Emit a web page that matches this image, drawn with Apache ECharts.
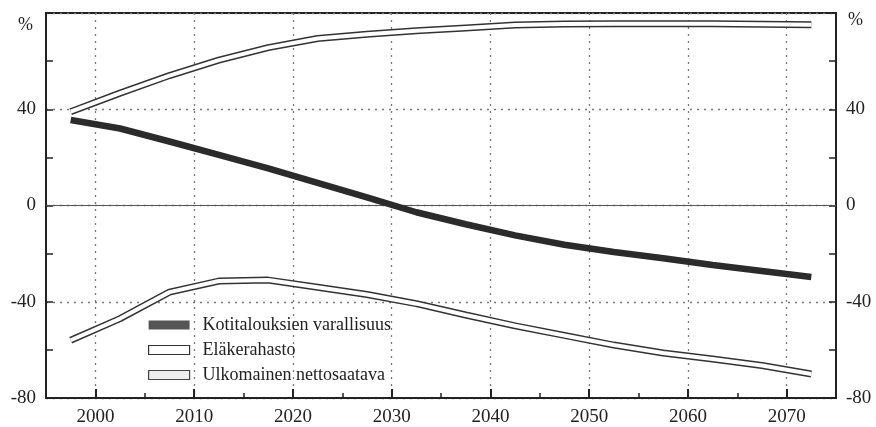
<!DOCTYPE html>
<html>
<head>
<meta charset="utf-8">
<title>Varallisuus</title>
<script src="https://cdn.jsdelivr.net/npm/echarts@6/dist/echarts.min.js"></script>
<style>
  html, body { margin: 0; padding: 0; background: #fff; }
  #chart { width: 876px; height: 427px; }
</style>
</head>
<body>
<div id="chart"></div>
<script>
// data (5 year steps, mid-year points)
var years = [1997.5, 2002.5, 2007.5, 2012.5, 2017.5, 2022.5, 2027.5, 2032.5,
             2037.5, 2042.5, 2047.5, 2052.5, 2057.5, 2062.5, 2067.5, 2072.5];
var kotitaloudet = [35.5, 32, 26.6, 21, 15.4, 9.4, 3.4, -2.8,
                    -7.8, -12.4, -16.3, -19.3, -21.9, -24.7, -27.2, -29.7];
var elakerahasto = [39, 46.7, 54, 60.4, 65.6, 69.4, 71.2, 72.6,
                    73.8, 75, 75.4, 75.5, 75.5, 75.5, 75.3, 75.1];
var ulkomainen = [-56, -47, -36, -31.4, -31, -34, -37, -40.8,
                  -45.5, -50, -54, -58, -61.3, -63.8, -66.5, -70];
var decades = [2000, 2010, 2020, 2030, 2040, 2050, 2060, 2070];
var yLabels = [40, 0, -40, -80];
var names = ['Kotitalouksien varallisuus', 'Eläkerahasto', 'Ulkomainen nettosaatava'];

function pairs(vals) {
  return years.map(function (y, i) { return [y, vals[i]]; });
}

var serif = 'Liberation Serif';
var ink = '#222';

var chart = echarts.init(document.getElementById('chart'));

var yAxisBase = {
  type: 'value', min: -80, max: 80, interval: 20,
  axisLine: { show: true, lineStyle: { color: ink, width: 2 } },
  axisTick: { show: true, inside: true, length: 7, lineStyle: { color: ink, width: 1.5 } },
  axisLabel: {
    fontFamily: serif, fontSize: 19, color: ink, margin: 10,
    formatter: function (v) { return yLabels.indexOf(v) >= 0 ? String(v) : ''; }
  },
  splitLine: { show: false }
};

var option = {
  animation: false,
  grid: { left: 46, right: 40, top: 13, bottom: 28, show: true, borderColor: ink, borderWidth: 2 },
  legend: {
    orient: 'vertical', left: 148, top: 316, padding: 0,
    itemWidth: 41, itemHeight: 9, itemGap: 7,
    textStyle: { fontFamily: serif, fontSize: 18, color: ink, padding: [0, 0, 0, 8] },
    data: [
      { name: names[0], icon: 'rect', itemStyle: { color: '#555', borderWidth: 0 } },
      { name: names[1], icon: 'rect', itemStyle: { color: '#fff', borderColor: '#333', borderWidth: 1.2 } },
      { name: names[2], icon: 'rect', itemStyle: { color: '#eee', borderColor: '#444', borderWidth: 1.2 } }
    ]
  },
  graphic: [
    { type: 'text', left: 18, top: 16, style: { text: '%', font: '18px "Liberation Serif"', fill: ink } },
    { type: 'text', left: 848, top: 11, style: { text: '%', font: '18px "Liberation Serif"', fill: ink } }
  ],
  xAxis: [
    {
      type: 'value', min: 1995, max: 2075, interval: 5,
      axisLine: { show: true, onZero: false, lineStyle: { color: ink, width: 2 } },
      axisTick: { show: true, inside: true, length: 5, lineStyle: { color: ink, width: 1.5 } },
      axisLabel: { show: false },
      splitLine: { show: false }
    },
    {
      type: 'value', min: 1995, max: 2075, position: 'bottom',
      axisLine: { show: false, onZero: false },
      axisTick: { show: true, inside: true, length: 9, customValues: decades, lineStyle: { color: ink, width: 2 } },
      axisLabel: {
        customValues: decades, fontFamily: serif, fontSize: 19, color: ink, margin: 10,
        formatter: function (v) { return String(v); }
      },
      splitLine: { show: true, lineStyle: { color: '#777', type: [2, 5], width: 1.3 } }
    }
  ],
  yAxis: [
    Object.assign({}, yAxisBase, { position: 'left' }),
    Object.assign({}, yAxisBase, { position: 'right' }),
    {
      type: 'value', min: -80, max: 80, interval: 40, position: 'left',
      axisLine: { show: false }, axisTick: { show: false }, axisLabel: { show: false },
      splitLine: { show: true, lineStyle: { color: '#777', type: [2, 5], width: 1.3 } }
    }
  ],
  series: [
    {
      name: names[0], type: 'line', data: pairs(kotitaloudet), symbol: 'none', z: 5,
      lineStyle: { color: '#2b2b2b', width: 6.5 }, itemStyle: { color: '#555' },
      markLine: {
        silent: true, symbol: 'none', label: { show: false },
        lineStyle: { color: '#555', type: 'solid', width: 1.2 },
        data: [{ yAxis: 0 }]
      }
    },
    {
      name: names[1], type: 'line', data: pairs(elakerahasto), symbol: 'none', z: 3,
      lineStyle: { color: '#333', width: 7 }, itemStyle: { color: '#fff' }
    },
    {
      name: names[1], type: 'line', data: pairs(elakerahasto), symbol: 'none', z: 4,
      lineStyle: { color: '#fff', width: 4 }, itemStyle: { color: '#fff' }
    },
    {
      name: names[2], type: 'line', data: pairs(ulkomainen), symbol: 'none', z: 3,
      lineStyle: { color: '#333', width: 7 }, itemStyle: { color: '#eee' }
    },
    {
      name: names[2], type: 'line', data: pairs(ulkomainen), symbol: 'none', z: 4,
      lineStyle: { color: '#fff', width: 4 }, itemStyle: { color: '#eee' }
    }
  ]
};
chart.setOption(option);
</script>
</body>
</html>
